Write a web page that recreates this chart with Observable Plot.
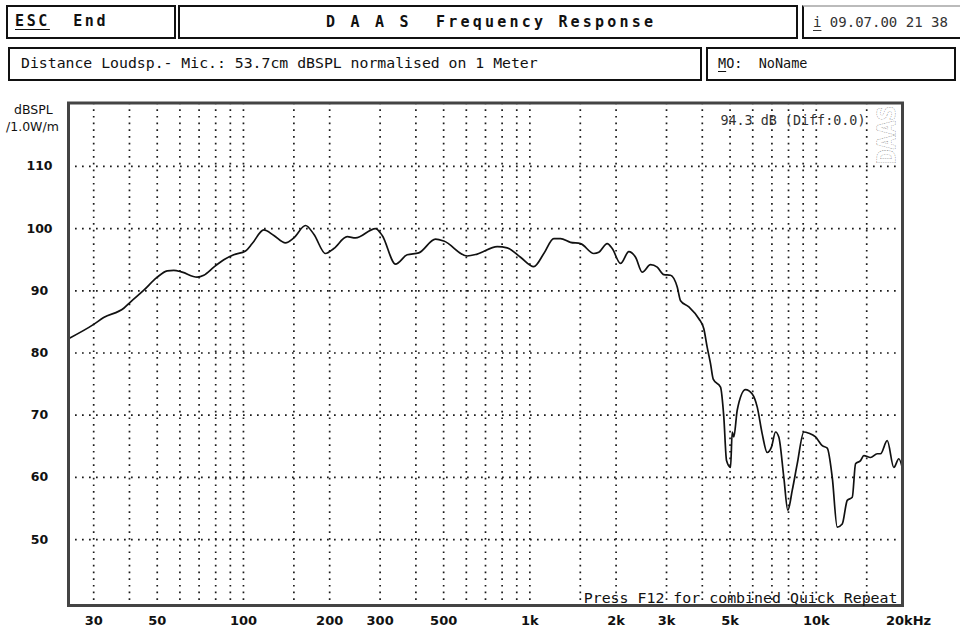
<!DOCTYPE html>
<html><head><meta charset="utf-8">
<script src="https://cdn.jsdelivr.net/npm/d3@7"></script>
<script src="https://cdn.jsdelivr.net/npm/@observablehq/plot@0.6"></script>
<style>
body{margin:0;background:#fff;}
#wrap{position:relative;width:960px;height:638px;overflow:hidden;background:#fff;font-family:"DejaVu Sans Mono",monospace;color:#111;}
#chart{position:absolute;left:0;top:0;}
.box{position:absolute;box-sizing:border-box;border:2.5px solid #111;}
.t{position:absolute;white-space:pre;line-height:1;}
.b{font-weight:bold;font-size:15px;letter-spacing:3.2px;}
.u{text-decoration:underline;text-underline-offset:3px;}
</style></head><body>
<div id="wrap">
  <div id="chart"></div>

  <div class="box" style="left:6px;top:5px;width:170px;height:34px;"></div>
  <div class="t b" style="left:15px;top:14px;letter-spacing:2.6px;"><span class="u">ESC</span>  End</div>

  <div class="box" style="left:178px;top:5px;width:620px;height:34px;"></div>
  <div class="t b" style="left:326px;top:15px;">D A A S  Frequency Response</div>

  <div class="box" style="left:802px;top:5px;width:170px;height:34px;border-top-color:#bbb;"></div>
  <div class="t" style="left:813px;top:15px;font-size:14px;color:#333;"><span class="u">i</span> 09.07.00 21 38</div>

  <div class="box" style="left:8px;top:47px;width:694px;height:34px;"></div>
  <div class="t" style="left:21px;top:56px;font-size:14.8px;">Distance Loudsp.- Mic.: 53.7cm dBSPL normalised on 1 Meter</div>

  <div class="box" style="left:706px;top:47px;width:250px;height:34px;"></div>
  <div class="t" style="left:718px;top:57px;font-size:13.5px;"><span class="u">M</span>O:  NoName</div>

  <div class="t" style="left:14px;top:104px;font-family:'DejaVu Sans';font-size:12.5px;">dBSPL</div>
  <div class="t" style="left:6px;top:121px;font-family:'DejaVu Sans';font-size:12.5px;">/1.0W/m</div>
</div>
<script>
// Frequency response curve (Hz, dB SPL)
const freqs = [24.5,30,32.5,38.2,40.3,44.9,50,54.2,57.1,61.1,68.9,72.7,78.8,85.4,92.5,101.7,107.3,117.8,127.7,140.2,149.9,164.7,176.1,193.4,206.8,230.3,246.2,289.1,305.1,339.7,373.1,409.5,468.3,500.7,604.2,655,769.3,833.3,927.7,1032,1119,1212,1279,1386,1503,1672,1741,1862,1939,2073,2216,2339,2468,2638,2784,2936,3099,3270,3358,3590,3890,4049,4161,4273,4367,4631,4755,4860,5019,5088,5154,5296,5662,5976,6221,6475,6740,6978,7206,7399,7703,7955,8242,8582,9050,9420,9942,10491,10922,11370,11836,12321,12828,13355,13713,14274,14658,15469,16324,16763,17691,18654,19419,20000];
const spl = [82.3,84.6,85.7,87.2,88.2,90.1,92.2,93.2,93.3,93.0,92.2,92.5,93.8,95.0,95.8,96.4,97.6,99.8,98.9,97.7,98.5,100.5,99.1,96.0,96.8,98.7,98.5,100.0,98.9,94.3,95.8,96.1,98.3,98.0,95.6,95.9,97.1,96.9,95.4,93.9,96.0,98.4,98.4,97.8,97.6,96.0,96.2,97.6,96.8,94.4,96.3,95.4,93.0,94.2,93.8,92.6,92.5,90.6,88.4,87.4,85.5,83.9,80.9,78.3,75.8,74.5,69.7,62.7,61.6,67.3,66.5,70.8,74.1,73.4,71.3,67.0,64.0,64.9,67.3,66.5,60.0,54.7,57.9,62.2,67.3,67.1,66.5,65.1,64.7,60.0,52.0,52.5,56.3,56.8,62.2,62.7,63.5,63.2,63.8,63.8,65.9,61.6,63.0,61.4];

// Grid and tick definitions
const gridX = [30,40,50,60,70,80,90,100,150,200,300,400,500,600,700,800,900,1000,1500,2000,3000,4000,5000,6000,7000,8000,9000,10000,15000];
const gridY = [50,60,70,80,90,100,110];
const xTicks = [30,50,100,200,300,500,1000,2000,3000,5000,10000];
const xTickLabels = ["30","50","100","200","300","500","1k","2k","3k","5k","10k"];
const xLastTick = [20000];
const xLastLabel = ["20kHz"];
const yTicks = [50,60,70,80,90,100,110];

const curve = freqs.map((f, i) => ({f, db: spl[i]}));

const chart = Plot.plot({
  width: 960,
  height: 638,
  marginLeft: 68,
  marginRight: 58,
  marginTop: 102.5,
  marginBottom: 33,
  x: {type: "log", domain: [24.5, 20000], axis: null},
  y: {domain: [39.4, 120.2], axis: null},
  style: {background: "transparent", fontFamily: "DejaVu Sans", color: "#111"},
  marks: [
    Plot.ruleX(gridX, {stroke: "#1a1a1a", strokeWidth: 1.7, strokeDasharray: "1.7,5"}),
    Plot.ruleY(gridY, {stroke: "#1a1a1a", strokeWidth: 1.7, strokeDasharray: "1.7,5.3"}),
    Plot.line(curve, {x: "f", y: "db", stroke: "#111", strokeWidth: 1.7, curve: "monotone-x"}),
    Plot.frame({stroke: "#444", strokeWidth: 3}),
    Plot.text(xTicks, {x: d => d, text: (d, i) => xTickLabels[i], frameAnchor: "bottom", dy: 15, textAnchor: "middle", lineAnchor: "middle", fontSize: 13, fontWeight: "bold"}),
    Plot.text(xLastTick, {x: d => d, text: (d, i) => xLastLabel[i], frameAnchor: "bottom", dy: 15, dx: 6, textAnchor: "middle", lineAnchor: "middle", fontSize: 13, fontWeight: "bold"}),
    Plot.text(yTicks, {y: d => d, text: d => String(d), frameAnchor: "left", dx: -29, textAnchor: "middle", lineAnchor: "middle", fontSize: 12.5, fontWeight: "bold"}),
    Plot.text(["94.3 dB (Diff:0.0)"], {frameAnchor: "top-right", dx: -37, dy: 17.5, textAnchor: "end", lineAnchor: "middle", fontFamily: "DejaVu Sans Mono", fontSize: 13.4, fill: "#333"}),
    Plot.text(["Press F12 for combined Quick Repeat"], {frameAnchor: "bottom-right", dx: -5, dy: -3, textAnchor: "end", lineAnchor: "bottom", fontFamily: "DejaVu Sans Mono", fontSize: 14.9, fill: "#111"}),
    Plot.text(["DAAS"], {frameAnchor: "top-right", dx: -15, dy: 32, rotate: -90, textAnchor: "middle", lineAnchor: "middle", fontFamily: "DejaVu Sans Mono", fontWeight: "bold", fontSize: 24, fill: "#fff", stroke: "#8a8a8a", strokeWidth: 1, strokeDasharray: "1.3,1"})
  ]
});
document.getElementById("chart").appendChild(chart);
</script>
</body></html>
